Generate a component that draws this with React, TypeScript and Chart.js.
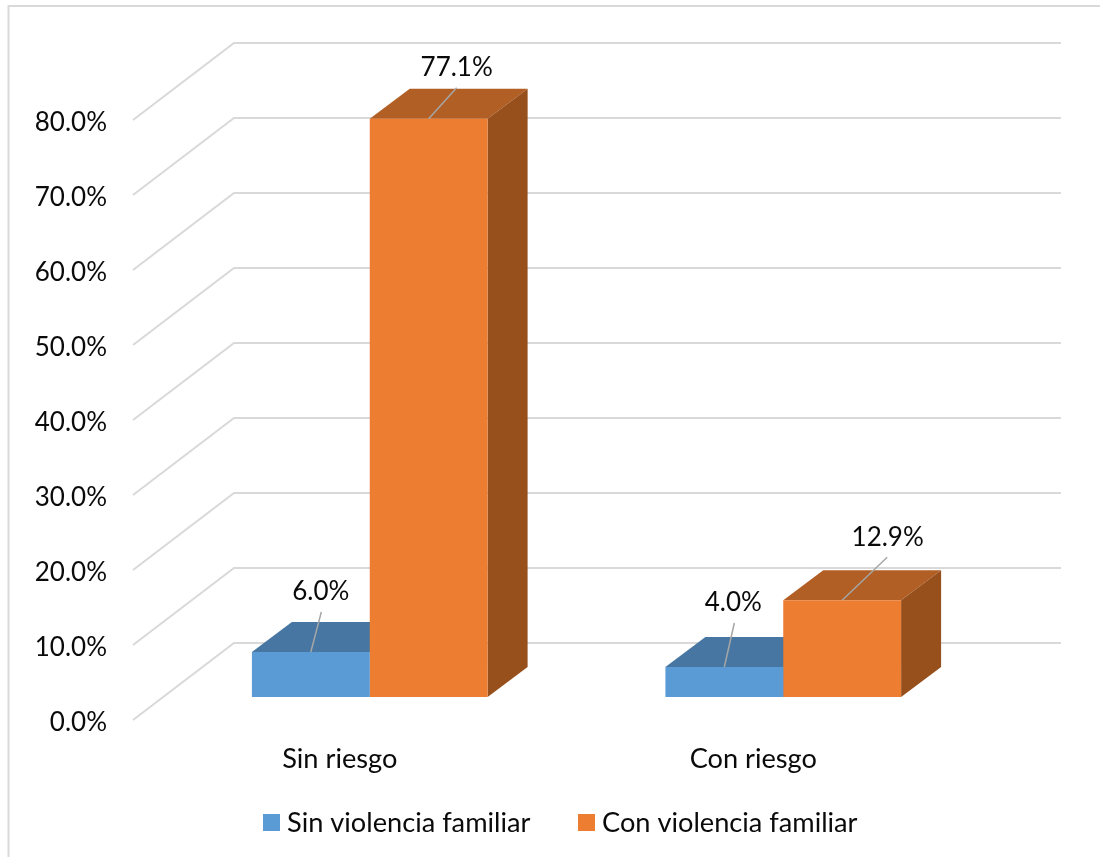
import React, { useEffect, useRef } from "react";
import { Chart, registerables } from "chart.js";

Chart.register(...registerables);

// Chart values
const categories = ["Sin riesgo", "Con riesgo"];
const seriesNames = ["Sin violencia familiar", "Con violencia familiar"];
const sinViolencia = [6.0, 4.0];
const conViolencia = [77.1, 12.9];

// Palette: front, top and side faces of each series
const frontColors = ["#5B9BD5", "#ED7D31"];
const topColors = ["#4676A1", "#B15F24"];
const sideColors = ["#3F6A91", "#974F1C"];
const gridColor = "#D9D9D9";
const leaderColor = "#A6A6A6";
const textColor = "#0A0A0A";
const fontFamily = "Lato, 'Open Sans', sans-serif";
const numberSize = 26;
const wordSize = 27.2;

// Depth of the box behind the front plane, and of the bars inside it
const wallDx = 101;
const wallDy = -77;
const barShiftX = 30;
const barShiftY = -23;
const barDepthX = 40;
const barDepthY = -30;

// Leader end and label centre of each value label, relative to the bar's top edge centre
const leaderEnds = [
  [[10.5, -40], [10, -44]],
  [[28, -31], [45, -43]],
];
const labelCentres = [
  [[10, -60], [9, -64]],
  [[28, -51], [45.5, -63]],
];

const legendItems = [
  { box: 263, text: 287 },
  { box: 578, text: 602 },
];

const poly = (ctx: CanvasRenderingContext2D, pts: number[][], fill: string) => {
  ctx.beginPath();
  pts.forEach(([x, y], i) => (i ? ctx.lineTo(x, y) : ctx.moveTo(x, y)));
  ctx.closePath();
  ctx.fillStyle = fill;
  ctx.fill();
};

const barBox = {
  id: "barBox",
  beforeDraw(chart: any) {
    const { ctx, width, height } = chart;
    ctx.save();
    ctx.fillStyle = "#FFFFFF";
    ctx.fillRect(0, 0, width, height);
    ctx.strokeStyle = gridColor;
    ctx.lineWidth = 2;
    ctx.beginPath();
    ctx.moveTo(8.5, height);
    ctx.lineTo(8.5, 6);
    ctx.lineTo(width, 6);
    ctx.stroke();
    ctx.restore();
  },
  beforeDatasetsDraw(chart: any) {
    const { ctx, chartArea, scales } = chart;
    ctx.save();
    // Side wall and back wall gridlines
    ctx.strokeStyle = gridColor;
    ctx.lineWidth = 2;
    scales.y.ticks.forEach((t: any) => {
      const y = scales.y.getPixelForValue(t.value);
      ctx.beginPath();
      ctx.moveTo(chartArea.left, y);
      ctx.lineTo(chartArea.left + wallDx, y + wallDy);
      ctx.lineTo(chartArea.right + wallDx, y + wallDy);
      ctx.stroke();
    });
    // Top and side faces, the front faces come from the bar elements
    chart.data.datasets.forEach((_: any, d: number) => {
      chart.getDatasetMeta(d).data.forEach((bar: any) => {
        const { x, y, base, width } = bar.getProps(["x", "y", "base", "width"]);
        const l = x - width / 2 + barShiftX;
        const r = x + width / 2 + barShiftX;
        const t = y + barShiftY;
        const b = base + barShiftY;
        poly(ctx, [[l, t], [r, t], [r + barDepthX, t + barDepthY], [l + barDepthX, t + barDepthY]], topColors[d]);
        poly(ctx, [[r, t], [r + barDepthX, t + barDepthY], [r + barDepthX, b + barDepthY], [r, b]], sideColors[d]);
      });
    });
    ctx.restore();
    ctx.save();
    ctx.translate(barShiftX, barShiftY);
  },
  afterDatasetsDraw(chart: any) {
    const { ctx } = chart;
    ctx.restore();
    ctx.save();
    // Value labels with their leader lines
    ctx.font = `${numberSize}px ${fontFamily}`;
    ctx.textAlign = "center";
    ctx.textBaseline = "middle";
    chart.data.datasets.forEach((ds: any, d: number) => {
      chart.getDatasetMeta(d).data.forEach((bar: any, i: number) => {
        const { x, y } = bar.getProps(["x", "y"]);
        const cx = x + barShiftX;
        const cy = y + barShiftY;
        ctx.strokeStyle = leaderColor;
        ctx.lineWidth = 1.5;
        ctx.beginPath();
        ctx.moveTo(cx, cy);
        ctx.lineTo(cx + leaderEnds[d][i][0], cy + leaderEnds[d][i][1]);
        ctx.stroke();
        ctx.fillStyle = textColor;
        ctx.fillText(`${ds.data[i].toFixed(1)}%`, cx + labelCentres[d][i][0], cy + labelCentres[d][i][1]);
      });
    });
    // Legend row
    ctx.font = `${wordSize}px ${fontFamily}`;
    ctx.textAlign = "left";
    seriesNames.forEach((name, d) => {
      ctx.fillStyle = frontColors[d];
      ctx.fillRect(legendItems[d].box, 814, 17, 17);
      ctx.fillStyle = textColor;
      ctx.fillText(name, legendItems[d].text, 823);
    });
    ctx.restore();
  },
};

export default function App() {
  const ref = useRef<HTMLCanvasElement>(null);

  useEffect(() => {
    const chart = new Chart(ref.current!, {
      type: "bar",
      data: {
        labels: categories,
        datasets: [sinViolencia, conViolencia].map((data, d) => ({
          label: seriesNames[d],
          data,
          backgroundColor: frontColors[d],
          borderWidth: 0,
          categoryPercentage: 0.57,
          barPercentage: 1,
          clip: false as any,
        })),
      },
      options: {
        animation: false,
        responsive: false,
        layout: { padding: { left: 0, top: 120, right: 140, bottom: 0 } },
        plugins: { legend: { display: false }, tooltip: { enabled: false }, title: { display: false } },
        scales: {
          x: {
            grid: { display: false, drawTicks: false },
            border: { display: false },
            afterFit: (s: any) => {
              s.height = 137;
            },
            ticks: {
              color: textColor,
              padding: 23,
              maxRotation: 0,
              font: { family: fontFamily, size: wordSize },
            },
          },
          y: {
            min: 0,
            max: 80,
            grid: { display: false, drawTicks: false },
            border: { display: false },
            afterFit: (s: any) => {
              s.width = 133;
            },
            ticks: {
              stepSize: 10,
              color: textColor,
              padding: 26,
              labelOffset: 3,
              font: { family: fontFamily, size: numberSize },
              callback: (v: any) => `${Number(v).toFixed(1)}%`,
            },
          },
        },
      },
      plugins: [barBox],
    });
    return () => chart.destroy();
  }, []);

  return (
    <canvas
      ref={ref}
      width={1100}
      height={857}
      style={{ position: "absolute", left: 0, top: 0, display: "block" }}
    />
  );
}
